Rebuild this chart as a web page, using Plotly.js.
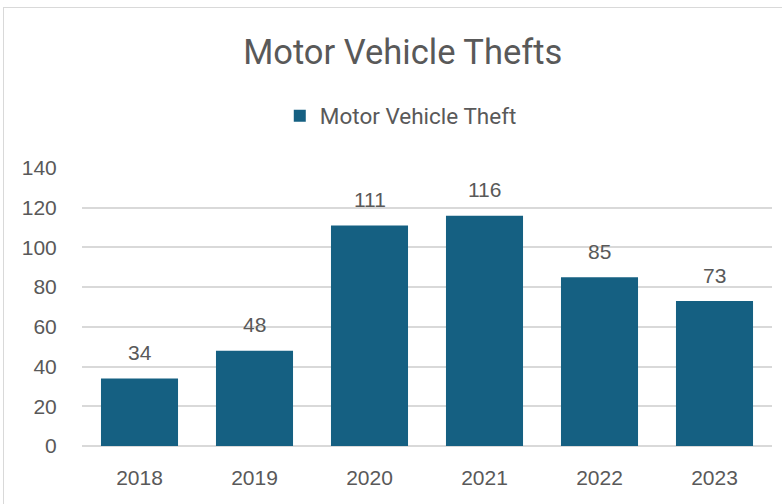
<!DOCTYPE html>
<html>
<head>
<meta charset="utf-8">
<script src="https://cdn.plot.ly/plotly-3.0.1.min.js"></script>
<style>
html,body{margin:0;padding:0;background:#fff;}
#wrap{position:relative;width:782px;height:504px;overflow:hidden;}
#frame{position:absolute;left:3px;top:7px;width:820px;height:540px;border:1.5px solid #d9d9d9;box-sizing:border-box;}
#chart{position:absolute;left:0;top:0;width:782px;height:504px;}
</style>
</head>
<body>
<div id="wrap"><div id="frame"></div><div id="chart"></div></div>
<script>
const years = ["2018", "2019", "2020", "2021", "2022", "2023"];
const thefts = [34, 48, 111, 116, 85, 73];
const seriesName = "Motor Vehicle Theft";
const chartTitle = "Motor Vehicle Thefts";
const yTicks = [0, 20, 40, 60, 80, 100, 120, 140];

const textColor = "#595959";
const barColor = "#156082";
const gridColor = "#d9d9d9";
const numFont = "Liberation Sans, Arial, sans-serif";

const trace = {
  type: "bar",
  x: years,
  y: thefts,
  name: seriesName,
  marker: {color: barColor},
  showlegend: true
};

// data labels: x is the category index of each year on the category axis
const annotations = years.map((yr, i) => ({
  x: i, y: thefts[i], xref: "x", yref: "y",
  text: String(thefts[i]), showarrow: false,
  yanchor: "middle", yshift: 26,
  font: {family: numFont, size: 21, color: textColor}
}));

const layout = {
  width: 782, height: 504,
  margin: {l: 82, r: 10, t: 168, b: 58},
  paper_bgcolor: "rgba(0,0,0,0)",
  plot_bgcolor: "rgba(0,0,0,0)",
  bargap: 0.33,
  title: {
    text: chartTitle,
    font: {family: "Roboto, sans-serif", size: 34.5, color: textColor},
    xref: "container", x: 0.515, xanchor: "center",
    yref: "container", y: 1 - 52/504, yanchor: "middle"
  },
  showlegend: true,
  legend: {
    orientation: "h",
    xref: "paper", x: 0.462, xanchor: "center",
    yref: "paper", y: 1.187, yanchor: "middle",
    font: {family: "Roboto, sans-serif", size: 22.5, color: textColor},
    bgcolor: "rgba(0,0,0,0)"
  },
  xaxis: {
    type: "category",
    range: [-0.5, years.length - 0.5],
    showgrid: false,
    showline: false,
    zeroline: false,
    ticks: "outside",
    ticklen: 13,
    tickcolor: "rgba(0,0,0,0)",
    tickfont: {family: numFont, size: 21, color: textColor}
  },
  yaxis: {
    range: [0, 140],
    tickvals: yTicks,
    showgrid: true,
    gridcolor: gridColor,
    gridwidth: 1.5,
    zeroline: true,
    zerolinecolor: gridColor,
    zerolinewidth: 1.5,
    showline: false,
    ticks: "outside",
    ticklen: 20,
    tickcolor: "rgba(0,0,0,0)",
    tickfont: {family: numFont, size: 21, color: textColor}
  },
  annotations: annotations
};

Plotly.newPlot("chart", [trace], layout, {displayModeBar: false});
</script>
</body>
</html>
